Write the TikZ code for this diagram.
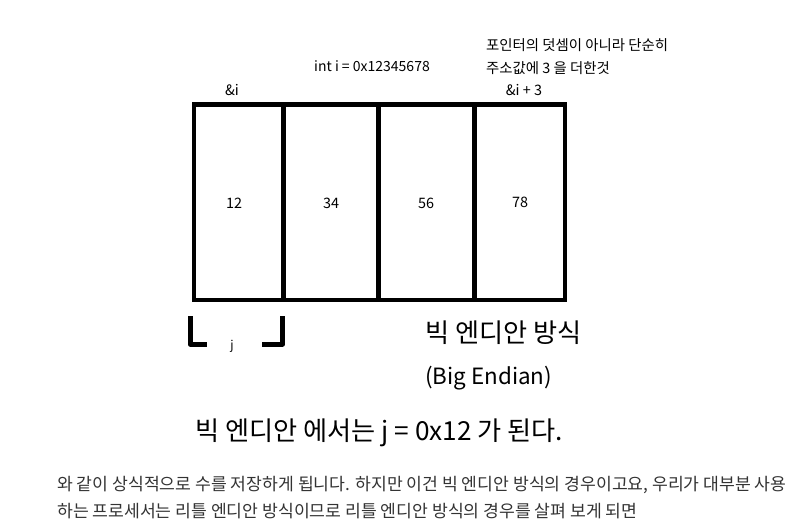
\documentclass[tikz,border=0pt]{standalone}
\usepackage{fontspec}
\newfontfamily\krfont{Noto Sans CJK KR}
\begin{document}
\begin{tikzpicture}[x=1pt,y=-1pt,
  small/.style={font=\krfont\fontsize{14.4}{16}\selectfont,inner sep=0pt},
  large/.style={font=\krfont\fontsize{26.2}{30}\selectfont,inner sep=0pt,anchor=west},
  para/.style={font=\krfont\fontsize{17.2}{20}\selectfont,inner sep=0pt,anchor=west,text=black!80},
  bracket/.style={line width=5,line join=round}]
\useasboundingbox (0,0) rectangle (802,525);

%MEMORY BOX
\pgfmathsetmacro{\xl}{194}
\pgfmathsetmacro{\xr}{565}
\pgfmathsetmacro{\yt}{104.5}
\pgfmathsetmacro{\yb}{300}
  \draw[line width=4.6](\xl,\yt) rectangle (\xr,\yb);
  \foreach \xd in {283.5,378.5,474.5}
    \draw[line width=4.6](\xd,\yt)--(\xd,\yb);
  \node (b12) at (234,203) [small] {12};
  \node (b34) at (331,203) [small] {34};
  \node (b56) at (426,203) [small] {56};
  \node (b78) at (520,202) [small] {78};

%LABELS
  \node (addr) at (232,90) [small] {\&i};
  \node (addr3) at (524,90) [small] {\&i + 3};
  \node (decl) at (372,66) [small,font=\krfont\fontsize{14}{16}\selectfont] {int i = 0x12345678};
  \node (note1) at (486,45) [small,anchor=west] {포인터의 덧셈이 아니라 단순히};
  \node (note2) at (486,68) [small,anchor=west] {주소값에 3 을 더한것};

%J BRACKET
  \draw[bracket](190,316)--(190,344)--(207,344);
  \draw[bracket](262,344)--(282.5,344)--(282.5,316);
  \node (jvar) at (232,346) [small,font=\krfont\fontsize{12}{14}\selectfont] {j};

%TEXT
  \node (big) at (425,333) [large] {빅 엔디안 방식};
  \node (bigen) at (425,378) [large,font=\krfont\fontsize{22.4}{26}\selectfont] {(Big Endian)};
  \node (res) at (195,433) [large] {빅 엔디안 에서는 j = 0x12 가 된다.};
  \node (p1) at (57,485) [para] {와 같이 상식적으로 수를 저장하게 됩니다. 하지만 이건 빅 엔디안 방식의 경우이고요, 우리가 대부분 사용};
  \node (p2) at (57,511) [para] {하는 프로세서는 리틀 엔디안 방식이므로 리틀 엔디안 방식의 경우를 살펴 보게 되면};
\end{tikzpicture}
\end{document}
